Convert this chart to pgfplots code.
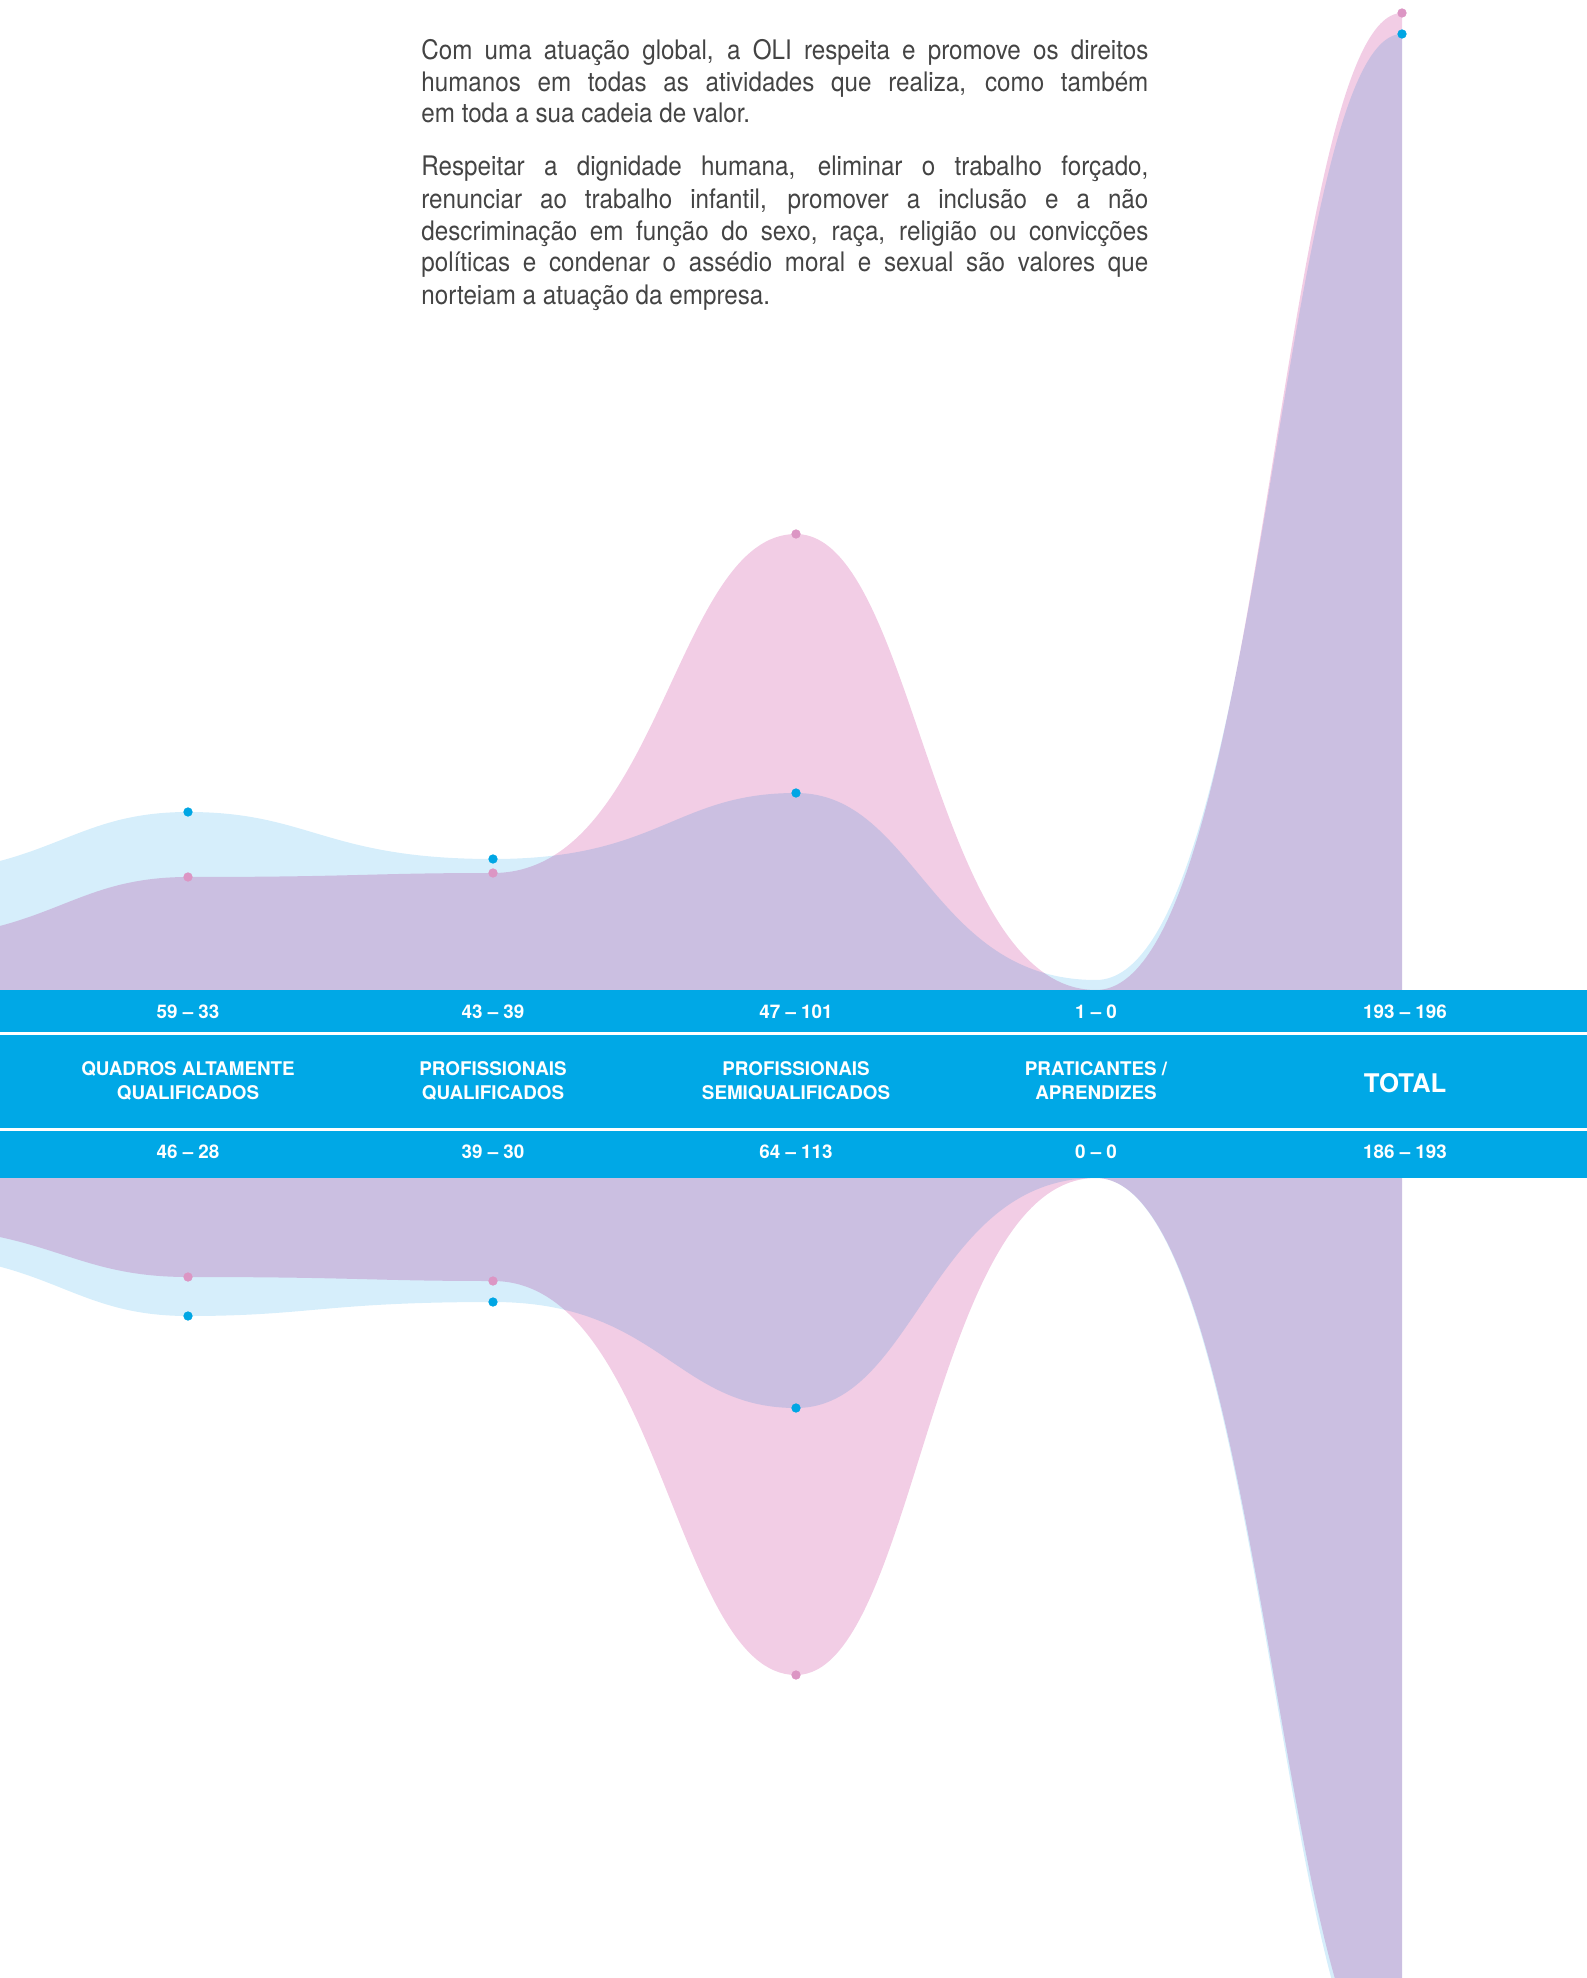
\documentclass[border=0pt]{standalone}
\usepackage{pgfplots}
\pgfplotsset{compat=1.18}
\usepackage{pgfplotstable}
\usepackage{fontspec}
\setmainfont{TeX Gyre Heros}
\newfontfamily\parafont{TeX Gyre Heros}[FakeStretch=0.9]
\definecolor{bandblue}{RGB}{0,168,230}
\definecolor{lblue}{RGB}{214,238,251}
\definecolor{lpink}{RGB}{242,205,229}
\definecolor{dotblue}{RGB}{0,166,228}
\definecolor{dotpink}{RGB}{220,150,196}
\definecolor{txtgray}{RGB}{68,68,68}

% plot handler: cubic segments with horizontal tangents at every data point
\makeatletter
\newdimen\hbez@lastx \newdimen\hbez@lasty
\def\hbezklow{0.55}
\def\hbezkhigh{0.40}
\def\hbezdir{1}
\pgfdeclareplothandler{\pgfplothandlerhbez}{}{%
  point macro=\hbez@first,
}
\def\hbez@first#1{%
  \pgf@process{#1}%
  \pgf@plot@first@action{\pgfqpoint{\pgf@x}{\pgf@y}}%
  \global\hbez@lastx=\pgf@x
  \global\hbez@lasty=\pgf@y
  \global\let\pgf@plotstreampoint=\hbez@next
}
\def\hbez@next#1{%
  \pgf@process{#1}%
  \pgf@xb=\pgf@x \pgf@yb=\pgf@y
  \pgf@xc=\pgf@xb \advance\pgf@xc by -\hbez@lastx
  \pgf@yc=\pgf@yb \advance\pgf@yc by -\hbez@lasty
  \pgf@yc=\hbezdir\pgf@yc
  \ifdim\pgf@yc>0pt
    \pgf@xa=\hbezklow\pgf@xc
    \pgf@ya=\hbezkhigh\pgf@xc
  \else
    \pgf@xa=\hbezkhigh\pgf@xc
    \pgf@ya=\hbezklow\pgf@xc
  \fi
  \advance\pgf@xa by \hbez@lastx
  \pgf@ya=-\pgf@ya \advance\pgf@ya by \pgf@xb
  \edef\hbez@tmp{\noexpand\pgfpathcurveto
     {\noexpand\pgfqpoint{\the\pgf@xa}{\the\hbez@lasty}}%
     {\noexpand\pgfqpoint{\the\pgf@ya}{\the\pgf@yb}}%
     {\noexpand\pgfqpoint{\the\pgf@xb}{\the\pgf@yb}}%
     \global\hbez@lastx=\the\pgf@xb\relax
     \global\hbez@lasty=\the\pgf@yb\relax}%
  \hbez@tmp
}
\tikzset{hbez/.code={\let\tikz@plot@handler=\pgfplothandlerhbez}}
\makeatother

% x = horizontal position (px), blue / pink = height above (top) or below (bottom) the band
\pgfplotstableread{
x     blue   pink
-117  23.1   10.1
188   35.6   22.6
493   26.2   23.4
796   39.4   91.2
1096  2.0    0.0
1402  191.2  195.4
}\topdata
\pgfplotstableread{
x     blue   pink
-117  15.0   9.6
188   27.6   19.8
493   24.8   20.6
796   46.0   99.4
1096  0.0    0.0
1402  185.0  182.0
}\botdata

\begin{document}
\begin{tikzpicture}
\useasboundingbox (0,-494bp) rectangle (793.5bp,495bp);
\def\hbezdir{1}
\begin{axis}[at={(0,0)}, anchor=south west, width=793.5bp, height=495bp,
  scale only axis, xmin=0, xmax=1587, ymin=0, ymax=198, hide axis]
\addplot[draw=none, fill=lblue, hbez] table[x=x,y=blue]{\topdata} \closedcycle;
\addplot[draw=none, fill=lpink, hbez, blend mode=multiply] table[x=x,y=pink]{\topdata} \closedcycle;
\addplot[only marks, mark=*, mark size=2.1bp, dotblue,
  skip coords between index={0}{1}, skip coords between index={4}{5}] table[x=x,y=blue]{\topdata};
\addplot[only marks, mark=*, mark size=2.1bp, dotpink,
  skip coords between index={0}{1}, skip coords between index={4}{5}] table[x=x,y=pink]{\topdata};
\end{axis}
\def\hbezdir{-1}
\begin{axis}[at={(0,-94bp)}, anchor=north west, width=793.5bp, height=400bp,
  scale only axis, xmin=0, xmax=1587, ymin=0, ymax=160, y dir=reverse, hide axis]
\addplot[draw=none, fill=lblue, hbez] table[x=x,y=blue]{\botdata} \closedcycle;
\addplot[draw=none, fill=lpink, hbez, blend mode=multiply] table[x=x,y=pink]{\botdata} \closedcycle;
\addplot[only marks, mark=*, mark size=2.1bp, dotblue,
  skip coords between index={0}{1}, skip coords between index={4}{6}] table[x=x,y=blue]{\botdata};
\addplot[only marks, mark=*, mark size=2.1bp, dotpink,
  skip coords between index={0}{1}, skip coords between index={4}{6}] table[x=x,y=pink]{\botdata};
\end{axis}

% band
\fill[bandblue] (0,0) rectangle (793.5bp,-94bp);
\fill[white] (0,-21bp) rectangle (793.5bp,-22.5bp);
\fill[white] (0,-69bp) rectangle (793.5bp,-70.5bp);
\begin{scope}[every node/.style={text=white, inner sep=0pt, align=center,
   font=\bfseries\fontsize{9.45}{12}\selectfont}]
\node at (94bp,-11bp) {59 – 33};
\node at (246.5bp,-11bp) {43 – 39};
\node at (398bp,-11bp) {47 – 101};
\node at (548bp,-11bp) {1 – 0};
\node at (702.5bp,-11bp) {193 – 196};
\node at (94bp,-45.5bp) {QUADROS ALTAMENTE\\QUALIFICADOS};
\node at (246.5bp,-45.5bp) {PROFISSIONAIS\\QUALIFICADOS};
\node at (398bp,-45.5bp) {PROFISSIONAIS\\SEMIQUALIFICADOS};
\node at (548bp,-45.5bp) {PRATICANTES /\\APRENDIZES};
\node[font=\bfseries\fontsize{12.9}{14}\selectfont] at (702.5bp,-46.5bp) {TOTAL};
\node at (94bp,-81bp) {46 – 28};
\node at (246.5bp,-81bp) {39 – 30};
\node at (398bp,-81bp) {64 – 113};
\node at (548bp,-81bp) {0 – 0};
\node at (702.5bp,-81bp) {186 – 193};
\end{scope}

% paragraph
\begin{scope}[every node/.style={anchor=base west, inner sep=0pt, text=txtgray,
   font=\parafont\fontsize{13.5}{16}\selectfont}]
\node at (210.5bp,465bp) {\makebox[363.5bp][s]{Com uma atuação global, a OLI respeita e promove os direitos}};
\node at (210.5bp,449.3bp) {\makebox[363.5bp][s]{humanos em todas as atividades que realiza, como também}};
\node at (210.5bp,433.5bp) {em toda a sua cadeia de valor.};
\node at (210.5bp,407bp) {\makebox[363.5bp][s]{Respeitar a dignidade humana, eliminar o trabalho forçado,}};
\node at (210.5bp,390.6bp) {\makebox[363.5bp][s]{renunciar ao trabalho infantil, promover a inclusão e a não}};
\node at (210.5bp,374.8bp) {\makebox[363.5bp][s]{descriminação em função do sexo, raça, religião ou convicções}};
\node at (210.5bp,359.1bp) {\makebox[363.5bp][s]{políticas e condenar o assédio moral e sexual são valores que}};
\node at (210.5bp,342.7bp) {norteiam a atuação da empresa.};
\end{scope}
\end{tikzpicture}
\end{document}
